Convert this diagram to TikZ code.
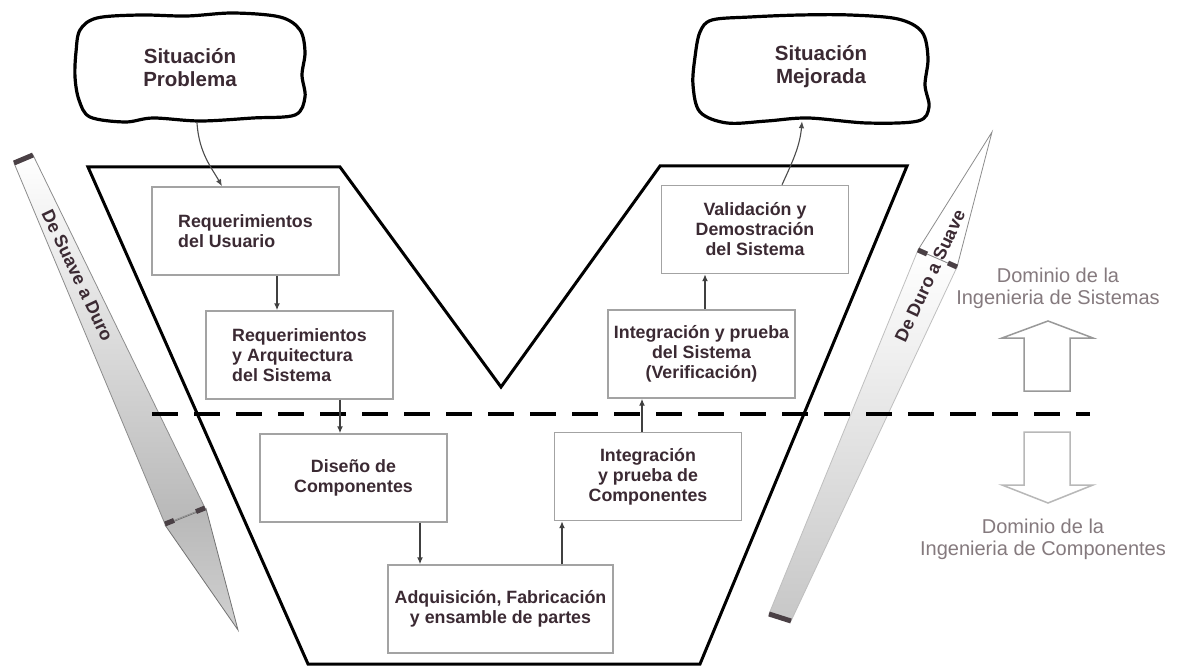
\documentclass[tikz,border=0pt]{standalone}
\usepackage{fontspec}
\setmainfont{Liberation Sans}
\usetikzlibrary{arrows.meta}
\definecolor{ink}{HTML}{3B2A33}
\definecolor{boxline}{HTML}{A3A3A3}
\definecolor{domtxt}{HTML}{857A7E}
\definecolor{capdark}{HTML}{4A4045}
\begin{document}
\begin{tikzpicture}[x=1pt,y=-1pt,
  stage/.style={draw=boxline, line width=1.4pt, fill=white, minimum width=187pt,
    minimum height=88pt, inner sep=0pt, text=ink, align=center,
    font=\fontsize{17.8}{20}\selectfont\bfseries},
  cloudtxt/.style={minimum width=230pt, inner sep=0pt, text=ink, align=center,
    font=\fontsize{20.5}{23}\selectfont\bfseries},
  cloudline/.style={draw=black, line width=3.2pt, line join=round},
  conn/.style={draw=black!75, line width=1.4pt, -{Latex[length=7pt,width=6pt]}},
  softconn/.style={draw=black!70, line width=1.1pt, -{Latex[length=7pt,width=5.5pt]}},
  vline/.style={draw=black, line width=3pt},
  dashline/.style={draw=black, line width=3.5pt, dash pattern=on 26pt off 16pt},
  capbar/.style={draw=capdark, line width=5pt},
  arrowtxt/.style={text=ink, inner sep=0pt, font=\fontsize{18}{20}\selectfont\bfseries},
  domlabel/.style={text=domtxt, align=center, inner sep=0pt, font=\fontsize{20}{22}\selectfont},
  hollowup/.style={draw=black!40, line width=1.5pt, fill=white, line join=miter},
  hollowdown/.style={draw=black!28, line width=1.5pt, fill=white, line join=miter}
]
\useasboundingbox (0,0) rectangle (1181,671);
\fill[white] (0,0) rectangle (1181,671);

% the V frame
\draw[vline] (88,167) -- (340,167) -- (501,387) -- (660,166) -- (907,166)
  -- (700,664) -- (308,664) -- cycle;

% soft-to-hard arrow on the left
\shadedraw[top color=white, bottom color=black!28, draw=black!45, line width=0.8pt]
  (14,163) -- (33,155) -- (205,508) -- (165,524) -- cycle;
\shadedraw[top color=black!28, bottom color=black!18, draw=black!55, line width=0.8pt]
  (165,525) -- (206,508.5) -- (238,630) -- cycle;
\draw[capbar] (14,163) -- (33,155);
\draw[capbar] (165,524) -- (174,520.4);
\draw[capbar] (196,511.6) -- (205,508);
\node[rotate=-64.5, arrowtxt] (sad) at (77.5,275.5) {De Suave a Duro};

% hard-to-soft arrow on the right
\shadedraw[bottom color=black!22, middle color=red!6!black!6, top color=white, draw=black!25, line width=0.8pt]
  (769,614) -- (791,621) -- (957,267) -- (918,250) -- cycle;
\draw[draw=black!45, line width=0.8pt, fill=white]
  (918,250) -- (957,267) -- (992,132) -- cycle;
\draw[capbar] (769,614) -- (791,621);
\draw[capbar] (918,250) -- (927,254);
\draw[capbar] (948,263) -- (957,267);
\node[rotate=65, arrowtxt] (das) at (930,276) {De Duro a Suave};

% boundary between the two domains
\draw[dashline] (152,414) -- (1090,414);

% clouds
\draw[cloudline] plot[smooth cycle, tension=0.55] coordinates {
  (97,18) (140,15) (187,16) (233,13) (280,17) (300,30) (305,52) (302,75)
  (305,97) (295,115) (253,118) (200,121) (153,118) (125,122) (90,117)
  (79,100) (75,77) (76,52) (80,30)};
\node[cloudtxt, minimum height=110pt] (sit1) at (190,68) {Situación\\Problema};

\draw[cloudline] plot[smooth cycle, tension=0.55] coordinates {
  (712,20) (750,17) (800,15) (850,15) (898,19) (922,32) (928,58) (925,85)
  (929,107) (918,121) (867,123) (808,118) (767,121) (727,123) (700,112)
  (693,85) (695,57) (700,32)};
\node[cloudtxt, minimum height=108pt] (sit2) at (821,67) {Situación\\Mejorada};

% stages
\node[stage, align=left] (usr) at (245.5,231) {Requerimientos\\del Usuario};
\node[stage, align=left] (arq) at (299.5,355) {Requerimientos\\y Arquitectura\\del Sistema};
\node[stage] (dis) at (353.5,478) {Diseño de\\Componentes};
\node[stage, minimum width=225pt] (adq) at (500.5,609) {Adquisición, Fabricación\\y ensamble de partes};
\node[stage] (icp) at (648,476.5) {Integración\\y prueba de\\Componentes};
\node[stage] (isv) at (701.5,354) {Integración y prueba\\del Sistema\\(Verificación)};
\node[stage] (val) at (755,229.5) {Validación y\\Demostración\\del Sistema};

% connectors
\coordinate (a1) at ([xshift=31.5pt]usr.south);
\coordinate (a2) at ([xshift=40.5pt]arq.south);
\coordinate (a3) at ([xshift=66.5pt]dis.south);
\coordinate (a4) at ([xshift=61.5pt]adq.north);
\coordinate (a5) at ([xshift=-6pt]icp.north);
\coordinate (a6) at ([xshift=3.5pt]isv.north);
\draw[conn] (a1) -- (a1 |- arq.north);
\draw[conn] (a2) -- (a2 |- dis.north);
\draw[conn] (a3) -- (a3 |- adq.north);
\draw[conn] (a4) -- (a4 |- icp.south);
\draw[conn] (a5) -- (a5 |- isv.south);
\draw[conn] (a6) -- (a6 |- val.south);

\draw[softconn] ([xshift=7pt]sit1.south) .. controls +(2,30) and +(-10,-18) .. ([xshift=-23.5pt]usr.north);
\draw[softconn] ([xshift=27pt]val.north) .. controls +(10,-22) and +(-2,25) .. ([xshift=-19pt]sit2.south);

% domain labels and hollow arrows
\node[domlabel] (dsys) at (1058,288) {Dominio de la\\Ingenieria de Sistemas};
\node[domlabel] (dcmp) at (1043,539) {Dominio de la\\Ingenieria de Componentes};
\draw[hollowup] (1024,391) -- (1024,338) -- (1002,338) -- (1048,321) -- (1093,338)
  -- (1070,338) -- (1070,391) -- cycle;
\draw[hollowdown] (1024,432) -- (1024,485) -- (1002,485) -- (1048,503) -- (1093,485)
  -- (1070,485) -- (1070,432) -- cycle;
\end{tikzpicture}
\end{document}
